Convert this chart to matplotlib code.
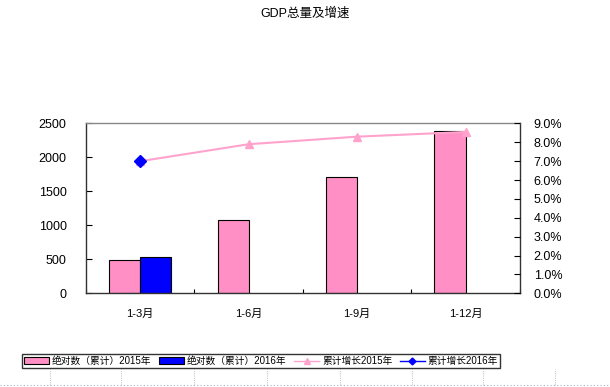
import matplotlib

matplotlib.use("Agg")
import matplotlib.pyplot as plt
import numpy as np
from matplotlib.patches import Patch
from matplotlib.lines import Line2D
from matplotlib.ticker import FuncFormatter

plt.rcParams["font.family"] = ["Liberation Sans", "Noto Sans CJK SC", "DejaVu Sans"]

# ---- data ----
categories = ["1-3月", "1-6月", "1-9月", "1-12月"]
total_2015 = [490, 1078, 1710, 2385]
total_2016 = [529, None, None, None]
growth_2015 = [7.0, 7.9, 8.3, 8.55]
growth_2016 = [7.0, None, None, None]

title = "GDP总量及增速"
labels = ["绝对数（累计）2015年", "绝对数（累计）2016年", "累计增长2015年", "累计增长2016年"]

PINK = "#FF8FC4"
BLUE = "#0000FF"
LINE_PINK = "#FFA3CC"

fig = plt.figure(figsize=(6.1, 3.87), dpi=100)
ax = fig.add_axes([0.141, 0.242, 0.711, 0.439])

x = np.arange(len(categories))
w = 0.286
v15 = np.array(total_2015, dtype=float)
v16 = np.array([np.nan if v is None else v for v in total_2016], dtype=float)
ax.bar(x - w / 2, v15, width=w, color=PINK, edgecolor="black", linewidth=0.8, zorder=2)
ax.bar(x + w / 2, v16, width=w, color=BLUE, edgecolor="black", linewidth=0.8, zorder=2)

ax.set_xlim(-0.5, len(categories) - 0.5)
ax.set_ylim(0, 2500)
ax.set_yticks(np.arange(0, 2501, 500))
ax.set_xticks(x)
ax.set_xticklabels(categories, fontsize=8)
ax.set_xticks(np.arange(-0.5, len(categories)), minor=True)
ax.tick_params(axis="x", which="major", length=0, pad=11)
ax.tick_params(axis="x", which="minor", direction="in", length=3, width=0.8)
ax.tick_params(axis="y", direction="in", length=4, width=0.8, labelsize=9, pad=14)
for s in ax.spines.values():
    s.set_linewidth(1.0)
    s.set_color("#333333")
ax.spines["top"].set_linestyle((0, (1, 1)))
ax.spines["top"].set_color("#888888")

ax2 = ax.twinx()
g15 = np.array(growth_2015, dtype=float)
g16 = np.array([np.nan if v is None else v for v in growth_2016], dtype=float)
ax2.plot(x, g15, color=LINE_PINK, linewidth=1.5, marker="^", markersize=6,
         markerfacecolor=LINE_PINK, markeredgecolor=LINE_PINK, zorder=3)
ax2.plot(x, g16, color=BLUE, linewidth=1.5, marker="D", markersize=6,
         markerfacecolor=BLUE, markeredgecolor=BLUE, zorder=4)
ax2.set_ylim(0, 9)
ax2.set_yticks(np.arange(0, 9.01, 1))
ax2.yaxis.set_major_formatter(FuncFormatter(lambda v, _: f"{v:.1f}%"))
ax2.tick_params(axis="y", direction="in", length=4, width=0.8, labelsize=9, pad=10)
for s in ax2.spines.values():
    s.set_visible(False)

fig.text(0.5, 0.965, title, ha="center", va="center", fontsize=9)

handles = [
    Patch(facecolor=PINK, edgecolor="black", linewidth=0.8),
    Patch(facecolor=BLUE, edgecolor="black", linewidth=0.8),
    Line2D([], [], color=LINE_PINK, marker="^", markersize=4, linewidth=1),
    Line2D([], [], color=BLUE, marker="D", markersize=3.5, linewidth=1),
]
leg = fig.legend(handles, labels, loc="center", bbox_to_anchor=(0.428, 0.067), ncol=4,
                 fontsize=7, frameon=True, fancybox=False, edgecolor="black",
                 handlelength=2.6, handleheight=0.7, handletextpad=0.3, columnspacing=0.75,
                 borderpad=0.2, borderaxespad=0)
leg.get_frame().set_linewidth(1.0)

# faint page artefacts below the legend (table grid of the source document)
for px in [50, 121, 194, 267, 340, 412, 483, 555]:
    fig.add_artist(Line2D([px / 610, px / 610], [2 / 387, 18 / 387], color="#C8C8C8",
                          linewidth=0.8, linestyle=(0, (1, 1))))
fig.add_artist(Line2D([0, 1], [2 / 387, 2 / 387], color="#A8B4D0", linewidth=0.8,
                      linestyle=(0, (1, 2))))

fig.savefig("out.png", dpi=100)
